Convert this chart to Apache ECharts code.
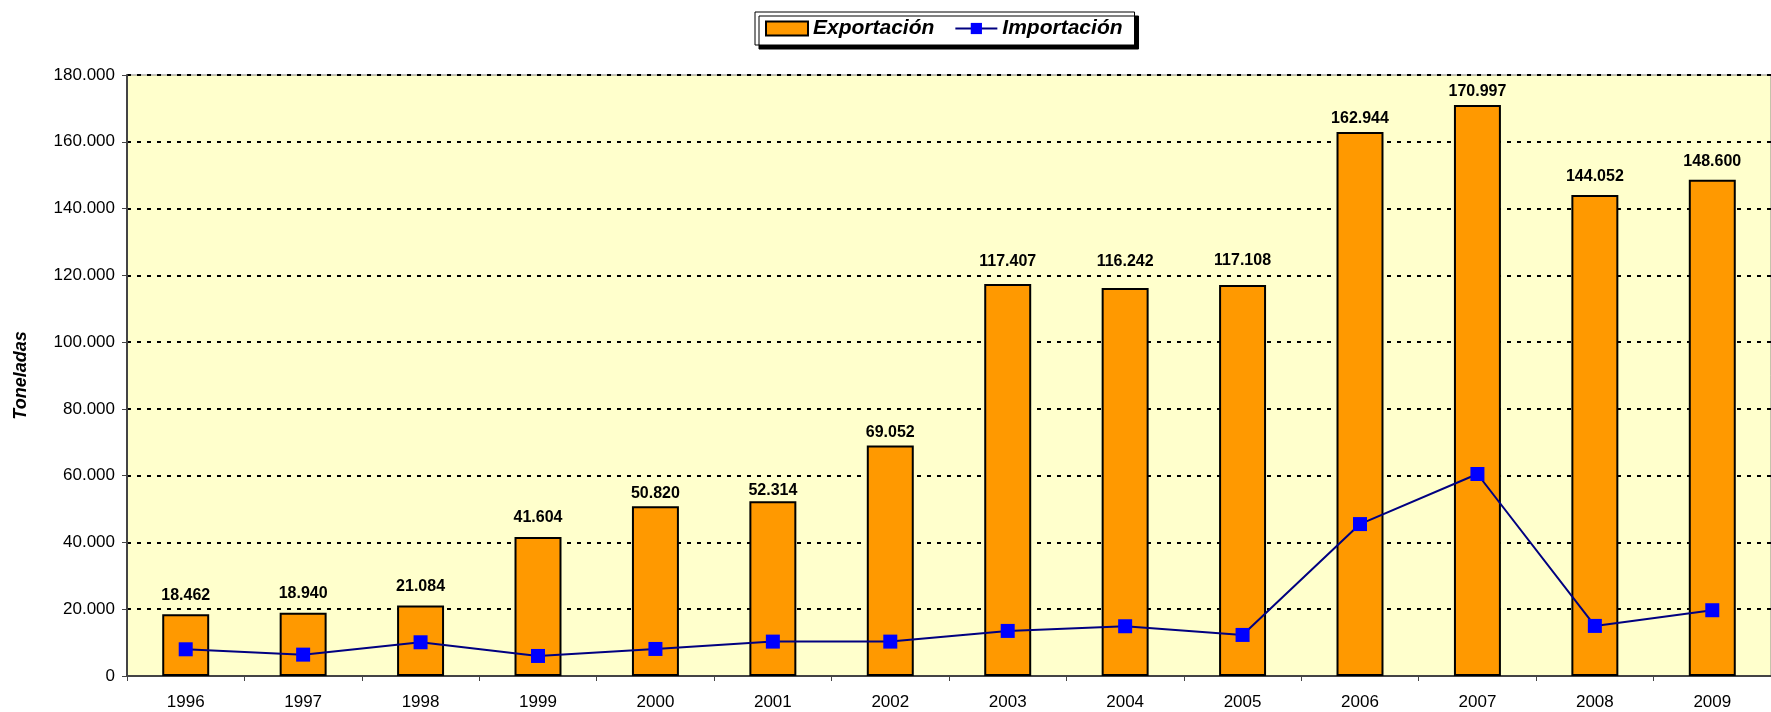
<!DOCTYPE html>
<html>
<head>
<meta charset="utf-8">
<script src="https://cdn.jsdelivr.net/npm/echarts@6/dist/echarts.min.js"></script>
<style>
  html, body { margin: 0; padding: 0; background: #fff; }
  #chart { width: 1771px; height: 712px; }
</style>
</head>
<body>
<div id="chart"></div>
<script>
const years = ['1996', '1997', '1998', '1999', '2000', '2001', '2002', '2003', '2004', '2005', '2006', '2007', '2008', '2009'];
const exportacion = [18462, 18940, 21084, 41604, 50820, 52314, 69052, 117407, 116242, 117108, 162944, 170997, 144052, 148600];
const importacion = [8000, 6400, 10100, 6000, 8100, 10300, 10300, 13500, 14900, 12300, 45500, 60500, 15000, 19700];

// 18462 -> "18.462"
function fmt(v) {
  return String(Math.round(v)).replace(/\B(?=(\d{3})+(?!\d))/g, '.');
}

// labels in the original were nudged by hand on a few bars
const labelNudge = {
  '2000': 5, '2001': 3, '2002': 5, '2003': 14, '2004': 18, '2005': 16,
  '2006': 5, '2007': 5, '2008': 10, '2009': 10,
};

const chart = echarts.init(document.getElementById('chart'));
chart.setOption({
  animation: false,
  textStyle: { fontFamily: 'Liberation Sans, Arial, sans-serif' },
  legend: {
    top: 12,
    left: 755,
    itemGap: 20,
    itemWidth: 42,
    itemHeight: 14,
    padding: [6, 12, 6, 10],
    borderColor: '#000',
    borderWidth: 1,
    backgroundColor: '#fff',
    shadowColor: '#000',
    shadowOffsetX: 4,
    shadowOffsetY: 4,
    shadowBlur: 0,
    textStyle: { fontSize: 21, fontWeight: 'bold', fontStyle: 'italic', color: '#000' },
    data: [
      { name: 'Exportación', icon: 'rect' },
      { name: 'Importación' },
    ],
  },
  grid: {
    left: 127,
    right: 0,
    top: 75,
    bottom: 36,
    show: true,
    backgroundColor: '#FFFFCC',
    borderColor: '#888',
    borderWidth: 1,
  },
  xAxis: {
    type: 'category',
    data: years,
    axisLine: { lineStyle: { color: '#444', width: 2 } },
    axisTick: { show: true, length: 5, lineStyle: { color: '#444' } },
    axisLabel: { color: '#000', fontSize: 17, margin: 18 },
  },
  yAxis: {
    type: 'value',
    min: 0,
    max: 180000,
    interval: 20000,
    name: 'Toneladas',
    nameLocation: 'middle',
    nameGap: 97,
    nameTextStyle: { fontSize: 18, fontWeight: 'bold', fontStyle: 'italic', color: '#000' },
    axisLine: { show: true, lineStyle: { color: '#444', width: 2 } },
    axisTick: { show: true, length: 5, inside: false, lineStyle: { color: '#444' } },
    axisLabel: { color: '#000', fontSize: 17, margin: 12, formatter: fmt },
    splitLine: { lineStyle: { color: '#000', type: [4, 6], width: 2 } },
  },
  series: [
    {
      name: 'Exportación',
      type: 'bar',
      data: exportacion.map((v, i) => {
        const d = labelNudge[years[i]];
        return d == null ? v : { value: v, label: { distance: d } };
      }),
      barWidth: '40%',
      itemStyle: { color: '#FF9900', borderColor: '#000', borderWidth: 2 },
      label: {
        show: true,
        position: 'top',
        distance: 11,
        formatter: (p) => fmt(p.value),
        fontSize: 16,
        fontWeight: 'bold',
        color: '#000',
      },
    },
    {
      name: 'Importación',
      type: 'line',
      data: importacion,
      symbol: 'rect',
      symbolSize: 14,
      itemStyle: { color: '#0000FF' },
      lineStyle: { color: '#000080', width: 2 },
      z: 3,
    },
  ],
});
</script>
</body>
</html>
